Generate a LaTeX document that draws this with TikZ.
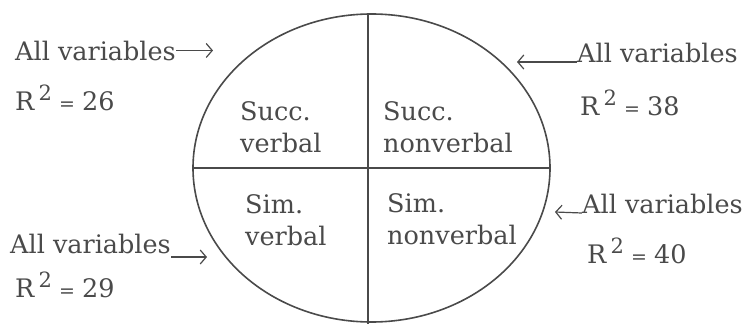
\documentclass[tikz,border=0pt]{standalone}
\usepackage{fontspec}
\setmainfont{DejaVu Serif}
\usetikzlibrary{arrows.meta}
\definecolor{ink}{HTML}{4A4A4A}
\newcommand{\rsq}[1]{R\,\raisebox{10pt}{\fontsize{21}{21}\selectfont 2}\;{\fontsize{19}{19}\selectfont =}\;#1}
\begin{document}
\begin{tikzpicture}[x=1pt,y=-1pt,
  txt/.style={anchor=base west,inner sep=0pt,text=ink,font=\fontsize{25.5}{30}\selectfont},
  ptr/.style={draw=ink,line width=1.2pt,-{Straight Barb[length=6pt,width=14pt]}}]
\useasboundingbox (0,0) rectangle (750,324);
% kruh rozdeleny na ctyri pole
\draw[ink,line width=1.6pt] (371.5,168) ellipse [x radius=178.5,y radius=154];
\draw[ink,line width=1.6pt] (193,168) -- (550,168);
\draw[ink,line width=1.6pt] (368,14) -- (368,324);
% popisky poli: x/y/prvni radek/druhy radek/jmeno
\foreach \x/\y/\one/\two/\nm in {240/120/Succ./verbal/sv, 383/120/Succ./nonverbal/snv,
    245/213/Sim./verbal/mv, 387/212/Sim./nonverbal/mnv} {
  \node[txt] (\nm1) at (\x,\y) {\one};
  \node[txt] (\nm2) at (\x,\y+32) {\two};
}
% vnejsi popisky
\node[txt] (tl) at (15,60) {All variables};
\node[txt] (tlr) at (15,110) {\rsq{26}};
\node[txt] (tr) at (577,62) {All variables};
\node[txt] (trr) at (580,115) {\rsq{38}};
\node[txt] (bl) at (10,253) {All variables};
\node[txt] (blr) at (15,297) {\rsq{29}};
\node[txt] (br) at (582,213) {All variables};
\node[txt] (brr) at (587,263) {\rsq{40}};
% sipky ke kruhu
\coordinate (tlend) at (213,53);
\coordinate (trend) at (517,62);
\coordinate (blend) at (207,257);
\coordinate (brend) at (555,212);
\draw[ptr] (tl.east) -- (tl.east -| tlend);
\draw[ptr] (tr.base west) -- (trend);
\draw[ptr] ([yshift=-4pt]bl.base east) -- (blend);
\draw[ptr] (br.base west) -- (brend);
\end{tikzpicture}
\end{document}
